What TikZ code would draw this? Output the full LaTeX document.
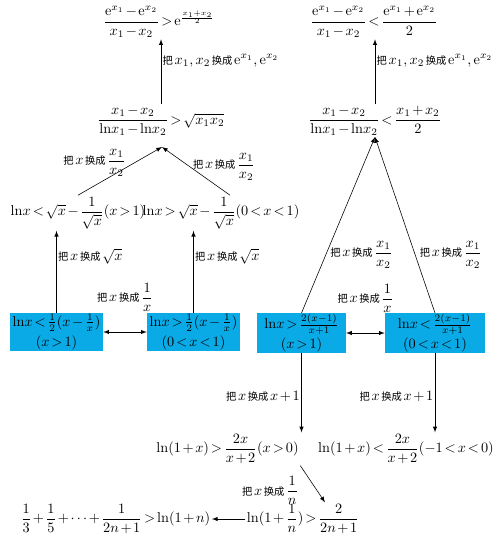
\documentclass[tikz,border=0pt]{standalone}
\usepackage{amsmath}
\usepackage{fontspec}
\newfontfamily\cjk[Scale=0.72]{Noto Sans CJK SC}
\usetikzlibrary{calc}
\definecolor{boxblue}{RGB}{10,170,230}
\thickmuskip=2.5mu
\medmuskip=2mu

\begin{document}
\begin{tikzpicture}[x=0.7pt,y=-0.7pt,inner sep=1pt,>=latex,thin,
bluebox/.style={fill=boxblue,rectangle,inner sep=0.5pt,align=center,minimum height=25pt},
lbl/.style={font=\cjk}]
\useasboundingbox (0,0) rectangle (500,536);
% left column
\draw (159,22) node (lt1) {$\dfrac{\mathrm{e}^{x_1}-\mathrm{e}^{x_2}}{x_1-x_2}>\mathrm{e}^{\frac{x_1+x_2}{2}}$};
\draw (161,121) node (lt2) {$\dfrac{x_1-x_2}{\mathrm{ln}x_1-\mathrm{ln}x_2}>\sqrt{x_1x_2}$};
\draw (78,213) node (lt3a) {$\mathrm{ln}x<\sqrt{x}-\dfrac{1}{\sqrt{x}}(x>1)$};
\draw (221,213) node (lt3b) {$\mathrm{ln}x>\sqrt{x}-\dfrac{1}{\sqrt{x}}(0<x<1)$};
\draw (56.5,332) node[bluebox,minimum width=65pt] (box1) {$\mathrm{ln}x<\frac{1}{2}(x-\frac{1}{x})$\\[2pt]$(x>1)$};
\draw (193.5,332) node[bluebox,minimum width=65pt] (box2) {$\mathrm{ln}x>\frac{1}{2}(x-\frac{1}{x})$\\[2pt]$(0<x<1)$};
\coordinate (lapex) at (162,147);
\draw[->] (lt2.north) -- (lt2.north |- lt1.south) node[lbl,pos=.67,right] {把\,$x_1,x_2$\,换成\,$\mathrm{e}^{x_1},\mathrm{e}^{x_2}$};
\draw[->] (lt3a.north) -- (lapex) node[lbl,pos=.67,left=5pt] {把\,$x$\,换成\,$\dfrac{x_1}{x_2}$};
\draw[->] ($(lt3b.north)+(9,0)$) -- (lapex) node[lbl,pos=.59,right=1pt] {把\,$x$\,换成\,$\dfrac{x_1}{x_2}$};
\draw[->] (box1.north) -- (box1.north |- lt3a.south) node[lbl,pos=.69,right] {把\,$x$\,换成\,$\sqrt{x}$};
\draw[->] (box2.north) -- (box2.north |- lt3b.south) node[lbl,pos=.69,right] {把\,$x$\,换成\,$\sqrt{x}$};
\draw[<->] (box1.east) -- (box2.west) node[lbl,midway,above=13pt] {把\,$x$\,换成\,$\dfrac{1}{x}$};
% right column
\draw (374,22) node (rt1) {$\dfrac{\mathrm{e}^{x_1}-\mathrm{e}^{x_2}}{x_1-x_2}<\dfrac{\mathrm{e}^{x_1}+\mathrm{e}^{x_2}}{2}$};
\draw (375,121) node (rt2) {$\dfrac{x_1-x_2}{\mathrm{ln}x_1-\mathrm{ln}x_2}<\dfrac{x_1+x_2}{2}$};
\draw (301.5,333) node[bluebox,minimum width=62pt] (box3) {$\mathrm{ln}x>\frac{2(x-1)}{x+1}$\\[2pt]$(x>1)$};
\draw (435,333) node[bluebox,minimum width=70pt] (box4) {$\mathrm{ln}x<\frac{2(x-1)}{x+1}$\\[2pt]$(0<x<1)$};
\draw (227.5,449) node (rt4a) {$\ln(1+x)>\dfrac{2x}{x+2}(x>0)$};
\draw (406,449) node (rt4b) {$\ln(1+x)<\dfrac{2x}{x+2}(-1<x<0)$};
\coordinate (rapex) at (375,137);
\draw[->] (rt2.north) -- (rt2.north |- rt1.south) node[lbl,pos=.67,right] {把\,$x_1,x_2$\,换成\,$\mathrm{e}^{x_1},\mathrm{e}^{x_2}$};
\draw[->] (box3.north) -- (rapex) node[lbl,pos=.33,right=2pt] {把\,$x$\,换成\,$\dfrac{x_1}{x_2}$};
\draw[->] (box4.north) -- (rapex) node[lbl,pos=.33,right=2pt] {把\,$x$\,换成\,$\dfrac{x_1}{x_2}$};
\draw[<->] (box3.east) -- (box4.west) node[lbl,midway,above=13pt] {把\,$x$\,换成\,$\dfrac{1}{x}$};
\draw[->] (box3.south) -- (box3.south |- rt4a.north) node[lbl,pos=.55,left] {把\,$x$\,换成\,$x+1$};
\draw[->] (box4.south) -- (box4.south |- rt4b.north) node[lbl,pos=.55,left] {把\,$x$\,换成\,$x+1$};
% bottom row
\draw (303,519) node (bot1) {$\ln(1+\dfrac{1}{n})>\dfrac{2}{2n+1}$};
\draw (115.5,519) node (bot2) {$\dfrac{1}{3}+\dfrac{1}{5}+\cdots+\dfrac{1}{2n+1}>\ln(1+n)$};
\draw[->] (rt4a.south east) -- ($(bot1.north)+(22,0)$) node[lbl,pos=.68,left=12pt] {把\,$x$\,换成\,$\dfrac{1}{n}$};
\draw[->] (bot1.west) -- (bot2.east);
\end{tikzpicture}
\end{document}
